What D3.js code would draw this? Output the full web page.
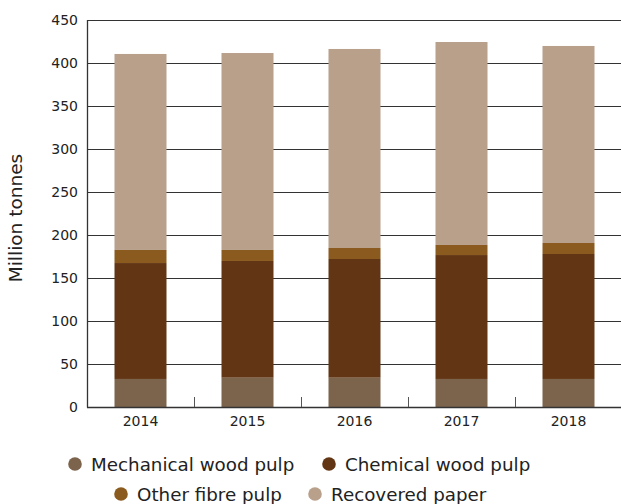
<!DOCTYPE html>
<html><head><meta charset="utf-8">
<script src="https://cdn.jsdelivr.net/npm/d3@7"></script>
<style>body{margin:0;background:#fff}svg{display:block}text{font-family:"DejaVu Sans",sans-serif;fill:#222}</style>
</head><body>
<svg id="c" width="621" height="504"></svg>
<script>
const years = ["2014","2015","2016","2017","2018"];
const seriesNames = ["Mechanical wood pulp","Chemical wood pulp","Other fibre pulp","Recovered paper"];
const mechanical = [32.6, 34.1, 34.1, 32.6, 32.6];
const chemical   = [134.8, 135.7, 138.0, 144.1, 145.3];
const otherFibre = [15.2, 12.8, 12.8, 11.7, 12.8];
const recovered  = [227.9, 229.0, 231.4, 236.0, 229.1];
const yTicks = [0,50,100,150,200,250,300,350,400,450];
const colors = ["#7c634c","#623615","#8b5a1e","#b8a08b"];

const svg = d3.select("#c");
const x = d3.scaleBand().domain(years).range([87,622]).padding(0);
const y = d3.scaleLinear().domain([0,450]).range([407,20]);
const barW = x.bandwidth()*0.486;

const rows = years.map((yr,i)=>({year:yr, s0:mechanical[i], s1:chemical[i], s2:otherFibre[i], s3:recovered[i]}));
const stack = d3.stack().keys(["s0","s1","s2","s3"])(rows);

// gridlines
svg.append("g").selectAll("line").data(yTicks.filter(d=>d>0)).join("line")
  .attr("x1",87).attr("x2",621).attr("y1",d=>Math.round(y(d))+0.5).attr("y2",d=>Math.round(y(d))+0.5)
  .attr("stroke","#333").attr("stroke-width",1);

// bars
svg.append("g").selectAll("g").data(stack).join("g").attr("fill",(d,i)=>colors[i])
  .selectAll("rect").data(d=>d).join("rect")
  .attr("x",d=>x(d.data.year)+(x.bandwidth()-barW)/2)
  .attr("width",barW)
  .attr("y",d=>y(d[1])).attr("height",d=>y(d[0])-y(d[1]));

// axes
svg.append("line").attr("x1",87.5).attr("x2",87.5).attr("y1",20).attr("y2",407.5).attr("stroke","#333").attr("stroke-width",1.3);
svg.append("line").attr("x1",87).attr("x2",621).attr("y1",407.5).attr("y2",407.5).attr("stroke","#333").attr("stroke-width",1.3);
svg.append("g").selectAll("line").data(years.slice(1)).join("line")
  .attr("x1",d=>x(d)+0.5).attr("x2",d=>x(d)+0.5).attr("y1",397).attr("y2",407)
  .attr("stroke","#555").attr("stroke-width",1);

// y tick labels
svg.append("g").selectAll("text").data(yTicks).join("text")
  .attr("x",78).attr("y",d=>y(d)).attr("dy","0.36em").attr("text-anchor","end")
  .style("font-size","14px").text(d=>d);
// x labels
svg.append("g").selectAll("text").data(years).join("text")
  .attr("x",d=>x(d)+x.bandwidth()/2).attr("y",421).attr("dy","0.36em").attr("text-anchor","middle")
  .style("font-size","14px").text(d=>d);
// y title
svg.append("text").attr("transform","translate(22,218) rotate(-90)").attr("text-anchor","middle")
  .style("font-size","18.5px").text("Million tonnes");

// legend
const legendItems = [
  {s:0, cx:75,  cy:464},
  {s:1, cx:329, cy:464},
  {s:2, cx:121, cy:494},
  {s:3, cx:315, cy:494}
];
const lg = svg.append("g").selectAll("g").data(legendItems).join("g");
lg.append("circle").attr("cx",d=>d.cx).attr("cy",d=>d.cy).attr("r",6.8).attr("fill",d=>colors[d.s]);
lg.append("text").attr("x",d=>d.cx+16).attr("y",d=>d.cy).attr("dy","0.36em")
  .style("font-size","18.3px").text(d=>seriesNames[d.s]);
</script>
</body></html>
